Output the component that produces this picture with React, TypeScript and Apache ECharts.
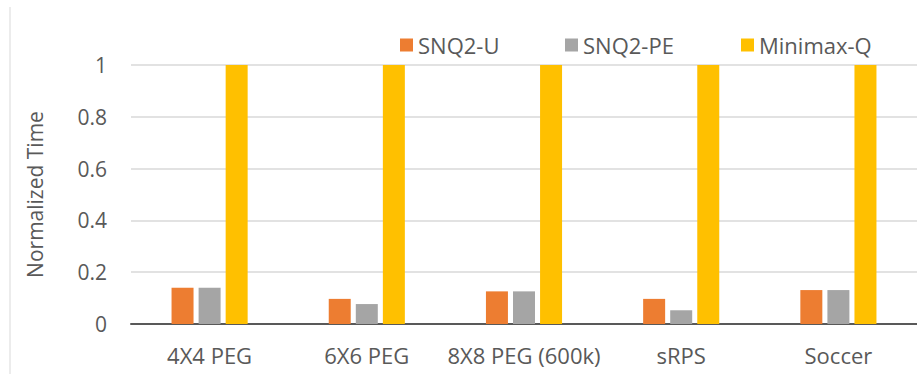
import React, { useEffect, useRef } from "react";
import * as echarts from "echarts";

const categories = ["4X4 PEG", "6X6 PEG", "8X8 PEG (600k)", "sRPS", "Soccer"];
const snq2U = [0.14, 0.097, 0.126, 0.097, 0.131];
const snq2PE = [0.14, 0.077, 0.126, 0.053, 0.131];
const minimaxQ = [1, 1, 1, 1, 1];
const yTicks = { min: 0, max: 1, interval: 0.2 };

const FONT = "Open Sans";
const TXT = "#595959";

export default function App() {
  const ref = useRef<HTMLDivElement>(null);
  useEffect(() => {
    if (!ref.current) return;
    const chart = echarts.init(ref.current, undefined, { renderer: "svg" });
    const legendBase = {
      top: 34,
      itemWidth: 13,
      itemHeight: 13,
      itemGap: 0,
      icon: "rect",
      textStyle: { fontFamily: FONT, fontSize: 22, color: TXT, padding: [0, 0, 0, 0] },
      padding: 0,
    };
    chart.setOption({
      animation: false,
      backgroundColor: "#ffffff",
      textStyle: { fontFamily: FONT },
      legend: [
        { ...legendBase, left: 400, data: ["SNQ2-U"] },
        { ...legendBase, left: 565, data: ["SNQ2-PE"] },
        { ...legendBase, left: 741, data: ["Minimax-Q"] },
      ],
      grid: { left: 131, top: 65, width: 789, bottom: 50, containLabel: false },
      xAxis: {
        type: "category",
        data: categories,
        axisTick: { show: false },
        axisLine: { lineStyle: { color: "#595959", width: 2 } },
        axisLabel: { fontFamily: FONT, fontSize: 22, color: TXT, margin: 20, interval: 0 },
      },
      yAxis: {
        type: "value",
        min: yTicks.min,
        max: yTicks.max,
        interval: yTicks.interval,
        name: "Normalized Time",
        nameLocation: "middle",
        nameGap: 86,
        nameTextStyle: { fontFamily: FONT, fontSize: 21, color: TXT },
        axisLine: { show: false },
        axisTick: { show: false },
        splitLine: { lineStyle: { color: "#D9D9D9", width: 1.5 } },
        axisLabel: { fontFamily: FONT, fontSize: 21, color: TXT, margin: 24 },
      },
      series: [
        { name: "SNQ2-U", type: "bar", data: snq2U, barWidth: 22, barGap: "23%", itemStyle: { color: "#ED7D31" } },
        { name: "SNQ2-PE", type: "bar", data: snq2PE, barWidth: 22, barGap: "23%", itemStyle: { color: "#A5A5A5" } },
        { name: "Minimax-Q", type: "bar", data: minimaxQ, barWidth: 22, barGap: "23%", itemStyle: { color: "#FFC000" } },
      ],
      graphic: [
        {
          type: "line",
          shape: { x1: 10, y1: 7, x2: 10, y2: 374 },
          style: { stroke: "#D9D9D9", lineWidth: 1 },
        },
      ],
    });
    return () => chart.dispose();
  }, []);
  return <div ref={ref} style={{ width: 917, height: 374, position: "absolute", left: 0, top: 0 }} />;
}
